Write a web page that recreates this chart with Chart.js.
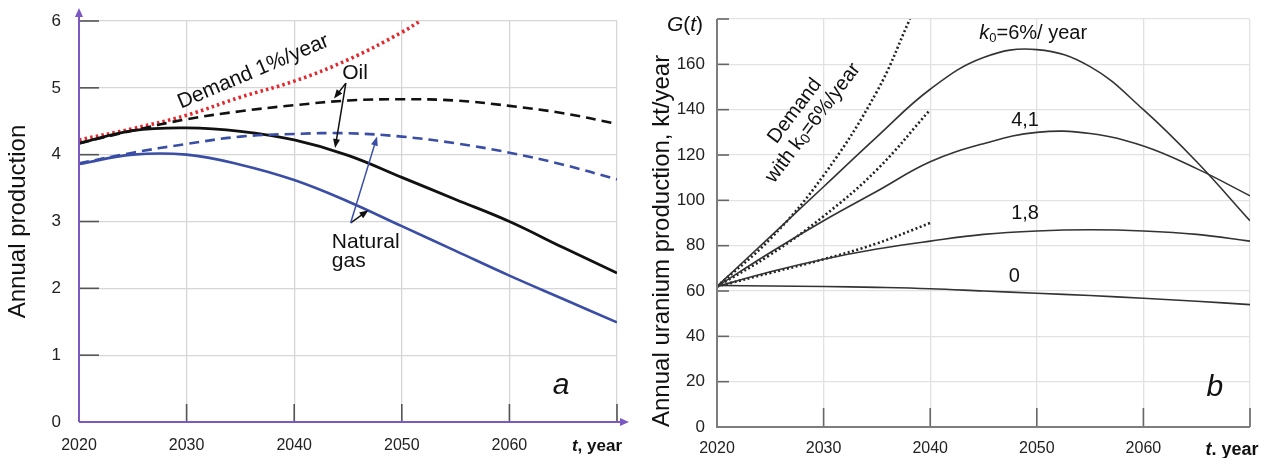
<!DOCTYPE html>
<html>
<head>
<meta charset="utf-8">
<script src="https://cdn.jsdelivr.net/npm/chart.js@4.4.1/dist/chart.umd.min.js"></script>
<style>
  body { margin: 0; background: #fff; }
  #boxA { position: absolute; left: 0; top: 0; width: 640px; height: 458px; }
  #boxB { position: absolute; left: 640px; top: 0; width: 631px; height: 458px; }
</style>
</head>
<body>
<div id="boxA"><canvas id="chartA"></canvas></div>
<div id="boxB"><canvas id="chartB"></canvas></div>
<script>
// ---- panel a: oil & gas ----
const yearsA = [2020, 2025, 2030, 2035, 2040, 2045, 2050, 2055, 2060, 2065, 2070];
const oilDashed = [4.17, 4.36, 4.53, 4.65, 4.74, 4.81, 4.83, 4.81, 4.73, 4.62, 4.46];
const oilSolid  = [4.17, 4.36, 4.40, 4.35, 4.22, 3.99, 3.66, 3.33, 3.00, 2.61, 2.23];
const gasDashed = [3.87, 4.03, 4.16, 4.27, 4.31, 4.32, 4.27, 4.17, 4.03, 3.85, 3.63];
const gasSolid  = [3.86, 4.00, 4.00, 3.85, 3.62, 3.30, 2.93, 2.56, 2.19, 1.84, 1.49];
const demandYearsA = [2020, 2025, 2030, 2035, 2040, 2045, 2050, 2051.7];
const demand1 = [4.22, 4.39, 4.59, 4.86, 5.10, 5.42, 5.83, 6.0];
const yTicksA = [0, 1, 2, 3, 4, 5, 6];

// ---- panel b: uranium ----
const yearsB = [2020, 2025, 2030, 2035, 2040, 2045, 2050, 2055, 2060, 2065, 2070];
const k6  = [62, 84, 106, 128, 149, 163, 166.5, 159, 140, 117, 91];
const k41 = [62, 77, 91, 104, 117, 125, 130, 129.5, 124, 114, 102];
const k18 = [62, 68.5, 74, 78.5, 82, 85, 86.5, 87, 86.5, 85, 82];
const k0  = [62.5, 62.2, 62, 61.6, 61, 60, 59, 58, 56.8, 55.5, 54];
const demYears6 = [2020, 2025, 2030, 2035, 2038.1];
const demand6 = [62, 83, 111, 148, 180];
const demYears41 = [2020, 2025, 2030, 2035, 2040];
const demand41 = [62, 76, 93, 113.5, 140];
const demYears18 = [2020, 2025, 2030, 2035, 2040];
const demand18 = [62, 68, 74, 81, 90];
const yTicksB = [0, 20, 40, 60, 80, 100, 120, 140, 160, 180];

const xTicks = [2020, 2030, 2040, 2050, 2060, 2070];

const SANS = "'Liberation Sans', Arial, sans-serif";
const NARROW = "'Liberation Sans Narrow', 'Liberation Sans', Arial, sans-serif";
Chart.defaults.font.family = SANS;

const pts = (xs, ys) => xs.map((x, i) => ({ x: x, y: ys[i] }));

function arrow(ctx, x1, y1, x2, y2, color, w) {
  const a = Math.atan2(y2 - y1, x2 - x1);
  ctx.save();
  ctx.strokeStyle = color; ctx.fillStyle = color; ctx.lineWidth = w;
  ctx.beginPath(); ctx.moveTo(x1, y1); ctx.lineTo(x2 - 6 * Math.cos(a), y2 - 6 * Math.sin(a)); ctx.stroke();
  ctx.beginPath();
  ctx.moveTo(x2, y2);
  ctx.lineTo(x2 - 9 * Math.cos(a) + 3.5 * Math.sin(a), y2 - 9 * Math.sin(a) - 3.5 * Math.cos(a));
  ctx.lineTo(x2 - 9 * Math.cos(a) - 3.5 * Math.sin(a), y2 - 9 * Math.sin(a) + 3.5 * Math.cos(a));
  ctx.closePath(); ctx.fill();
  ctx.restore();
}

// parts drawn one after another, centered (or left aligned) at x,y
function runs(ctx, parts, x, y, align, rot) {
  ctx.save();
  ctx.translate(x, y);
  if (rot) ctx.rotate(rot * Math.PI / 180);
  ctx.textBaseline = 'middle';
  ctx.textAlign = 'left';
  ctx.fillStyle = '#111';
  let total = 0;
  parts.forEach(p => { ctx.font = p.font; total += ctx.measureText(p.t).width; });
  let cx = align === 'left' ? 0 : -total / 2;
  parts.forEach(p => {
    ctx.font = p.font;
    ctx.fillText(p.t, cx, p.dy || 0);
    cx += ctx.measureText(p.t).width;
  });
  ctx.restore();
}

const decorA = {
  id: 'decorA',
  afterDraw(chart) {
    const ctx = chart.ctx, sx = chart.scales.x, sy = chart.scales.y;
    const X = v => sx.getPixelForValue(v), Y = v => sy.getPixelForValue(v);
    const left = X(2020), bottom = Y(0);
    ctx.save();
    // inner tick marks
    ctx.strokeStyle = '#555'; ctx.lineWidth = 1.6;
    xTicks.slice(1).forEach(t => { ctx.beginPath(); ctx.moveTo(X(t), bottom); ctx.lineTo(X(t), bottom - 18); ctx.stroke(); });
    yTicksA.slice(1).forEach(t => { ctx.beginPath(); ctx.moveTo(left, Y(t)); ctx.lineTo(left + 20, Y(t)); ctx.stroke(); });
    // axes with arrows
    const purple = '#7b58c4';
    ctx.strokeStyle = purple; ctx.fillStyle = purple; ctx.lineWidth = 2;
    ctx.beginPath(); ctx.moveTo(left, bottom); ctx.lineTo(left, 14); ctx.stroke();
    ctx.beginPath(); ctx.moveTo(left, 8); ctx.lineTo(left - 4, 17); ctx.lineTo(left + 4, 17); ctx.closePath(); ctx.fill();
    ctx.beginPath(); ctx.moveTo(left, bottom); ctx.lineTo(622, bottom); ctx.stroke();
    ctx.beginPath(); ctx.moveTo(629, bottom); ctx.lineTo(620, bottom - 4); ctx.lineTo(620, bottom + 4); ctx.closePath(); ctx.fill();
    ctx.restore();

    // annotations
    runs(ctx, [{ t: 'Demand 1%/year', font: '21px ' + SANS }], X(2036.2), Y(5.24), 'center', -23);
    runs(ctx, [{ t: 'Oil', font: '21px ' + SANS }], X(2045.65), Y(5.22), 'center');
    runs(ctx, [{ t: 'Natural', font: '21px ' + SANS }], X(2043.5), Y(2.69), 'left');
    runs(ctx, [{ t: 'gas', font: '21px ' + SANS }], X(2043.5), Y(2.40), 'left');
    arrow(ctx, X(2044.8), Y(5.07), X(2043.7), Y(4.84), '#111', 1.5);
    arrow(ctx, X(2044.8), Y(5.07), X(2043.8), Y(4.10), '#111', 1.5);
    arrow(ctx, X(2045.25), Y(2.98), X(2046.9), Y(3.17), '#111', 1.5);
    arrow(ctx, X(2045.25), Y(2.98), X(2047.7), Y(4.27), '#3a4ea6', 1.5);
    runs(ctx, [{ t: 'a', font: 'italic 30px ' + SANS }], X(2064.8), Y(0.55), 'center');
    runs(ctx, [{ t: 't', font: 'italic bold 17px ' + SANS }, { t: ', year', font: 'bold 17px ' + SANS }], 597, 446, 'center');
  }
};

const decorB = {
  id: 'decorB',
  afterDraw(chart) {
    const ctx = chart.ctx, sx = chart.scales.x, sy = chart.scales.y;
    const X = v => sx.getPixelForValue(v), Y = v => sy.getPixelForValue(v);
    const left = X(2020), bottom = Y(0), top = Y(180);
    ctx.save();
    ctx.strokeStyle = '#666'; ctx.lineWidth = 1.6;
    xTicks.slice(1).forEach(t => { ctx.beginPath(); ctx.moveTo(X(t), bottom); ctx.lineTo(X(t), bottom - 19); ctx.stroke(); });
    yTicksB.slice(1).forEach(t => { ctx.beginPath(); ctx.moveTo(left, Y(t)); ctx.lineTo(left + 12, Y(t)); ctx.stroke(); });
    ctx.strokeStyle = '#7d7d7d'; ctx.lineWidth = 2;
    ctx.beginPath(); ctx.moveTo(left, top); ctx.lineTo(left, bottom); ctx.lineTo(X(2070), bottom); ctx.stroke();
    ctx.restore();

    runs(ctx, [{ t: 'G', font: 'italic 21px ' + SANS }, { t: '(', font: '21px ' + SANS }, { t: 't', font: 'italic 21px ' + SANS }, { t: ')', font: '21px ' + SANS }], 45, 25, 'center');
    runs(ctx, [{ t: 'k', font: 'italic 20px ' + SANS }, { t: '0', font: '13px ' + SANS, dy: 5 }, { t: '=6%/ year', font: '20px ' + SANS }], X(2044.6), Y(173.8), 'left');
    runs(ctx, [{ t: '4,1', font: '20px ' + SANS }], X(2048.9), Y(135.4), 'center');
    runs(ctx, [{ t: '1,8', font: '20px ' + SANS }], X(2048.9), Y(94.4), 'center');
    runs(ctx, [{ t: '0', font: '20px ' + SANS }], X(2047.9), Y(66.2), 'center');
    runs(ctx, [{ t: 'Demand', font: '20px ' + SANS }], X(2027.3), Y(139.4), 'center', -53);
    runs(ctx, [{ t: 'with k', font: '20px ' + SANS }, { t: '0', font: '14px ' + SANS, dy: 4 }, { t: '=6%/year', font: '20px ' + SANS }], X(2029.0), Y(134.1), 'center', -53);
    runs(ctx, [{ t: 'b', font: 'italic 30px ' + SANS }], X(2066.7), Y(17.2), 'center');
    runs(ctx, [{ t: 't', font: 'italic bold 18px ' + SANS }, { t: '. year', font: 'bold 18px ' + SANS }], 592, 450, 'center');
  }
};

function xScale(height, padding, font, color, grid) {
  return {
    type: 'linear', min: 2020, max: 2070,
    afterFit: s => { s.height = height; s.paddingLeft = 0; s.paddingRight = 0; },
    afterBuildTicks: s => { s.ticks = xTicks.map(v => ({ value: v })); },
    ticks: { callback: v => (v === 2070 ? '' : String(v)), font: font, color: color, padding: padding, maxRotation: 0, autoSkip: false },
    grid: { color: grid, lineWidth: 1.3, drawTicks: false },
    border: { display: false }
  };
}

const common = {
  responsive: true,
  maintainAspectRatio: false,
  animation: false,
  plugins: { legend: { display: false }, tooltip: { enabled: false } },
  elements: { point: { radius: 0 }, line: { tension: 0.4, fill: false } }
};

new Chart(document.getElementById('chartA'), {
  type: 'line',
  data: {
    datasets: [
      { data: pts(yearsA, gasSolid), borderColor: '#3a4ea6', borderWidth: 2.6 },
      { data: pts(yearsA, gasDashed), borderColor: '#3a4ea6', borderWidth: 2.6, borderDash: [10, 6] },
      { data: pts(yearsA, oilSolid), borderColor: '#111', borderWidth: 2.8 },
      { data: pts(yearsA, oilDashed), borderColor: '#111', borderWidth: 2.6, borderDash: [10, 6] },
      { data: pts(demandYearsA, demand1), borderColor: '#e5262d', borderWidth: 3.6, borderDash: [2.5, 3.2] }
    ]
  },
  options: Object.assign({}, common, {
    layout: { padding: { top: 21, right: 23, left: 0, bottom: 0 } },
    scales: {
      x: xScale(36, 14, { size: 16 }, '#222', '#d6d6d6'),
      y: {
        min: 0, max: 6,
        afterFit: s => { s.width = 79; s.paddingTop = 0; s.paddingBottom = 0; },
        afterBuildTicks: s => { s.ticks = yTicksA.map(v => ({ value: v })); },
        ticks: { padding: 18, font: { size: 17 }, color: '#222' },
        grid: { color: '#d6d6d6', lineWidth: 1.3, drawTicks: false },
        border: { display: false },
        title: { display: true, text: 'Annual production', font: { size: 24 }, color: '#111', padding: { top: 4, bottom: 0 } }
      }
    }
  }),
  plugins: [decorA]
});

new Chart(document.getElementById('chartB'), {
  type: 'line',
  data: {
    datasets: [
      { data: pts(yearsB, k6), borderColor: '#333', borderWidth: 1.6 },
      { data: pts(yearsB, k41), borderColor: '#333', borderWidth: 1.6 },
      { data: pts(yearsB, k18), borderColor: '#333', borderWidth: 1.6 },
      { data: pts(yearsB, k0), borderColor: '#333', borderWidth: 1.6 },
      { data: pts(demYears6, demand6), borderColor: '#222', borderWidth: 2.6, borderDash: [2, 2.5] },
      { data: pts(demYears41, demand41), borderColor: '#222', borderWidth: 2.6, borderDash: [2, 2.5] },
      { data: pts(demYears18, demand18), borderColor: '#222', borderWidth: 2.6, borderDash: [2, 2.5] }
    ]
  },
  options: Object.assign({}, common, {
    layout: { padding: { top: 19, right: 21, left: 0, bottom: 0 } },
    scales: {
      x: xScale(31, 12, { size: 16, family: NARROW }, '#222', '#e2e2e2'),
      y: {
        min: 0, max: 180,
        afterFit: s => { s.width = 77; s.paddingTop = 0; s.paddingBottom = 0; },
        afterBuildTicks: s => { s.ticks = yTicksB.map(v => ({ value: v })); },
        ticks: { padding: 12, font: { size: 17, family: NARROW }, color: '#222', callback: v => (v === 180 ? '' : String(v)) },
        grid: { color: '#e2e2e2', lineWidth: 1.3, drawTicks: false },
        border: { display: false },
        title: { display: true, text: 'Annual uranium production, kt/year', align: 'start', font: { size: 24 }, color: '#111', padding: { top: 8, bottom: 0 } }
      }
    }
  }),
  plugins: [decorB]
});
</script>
</body>
</html>
